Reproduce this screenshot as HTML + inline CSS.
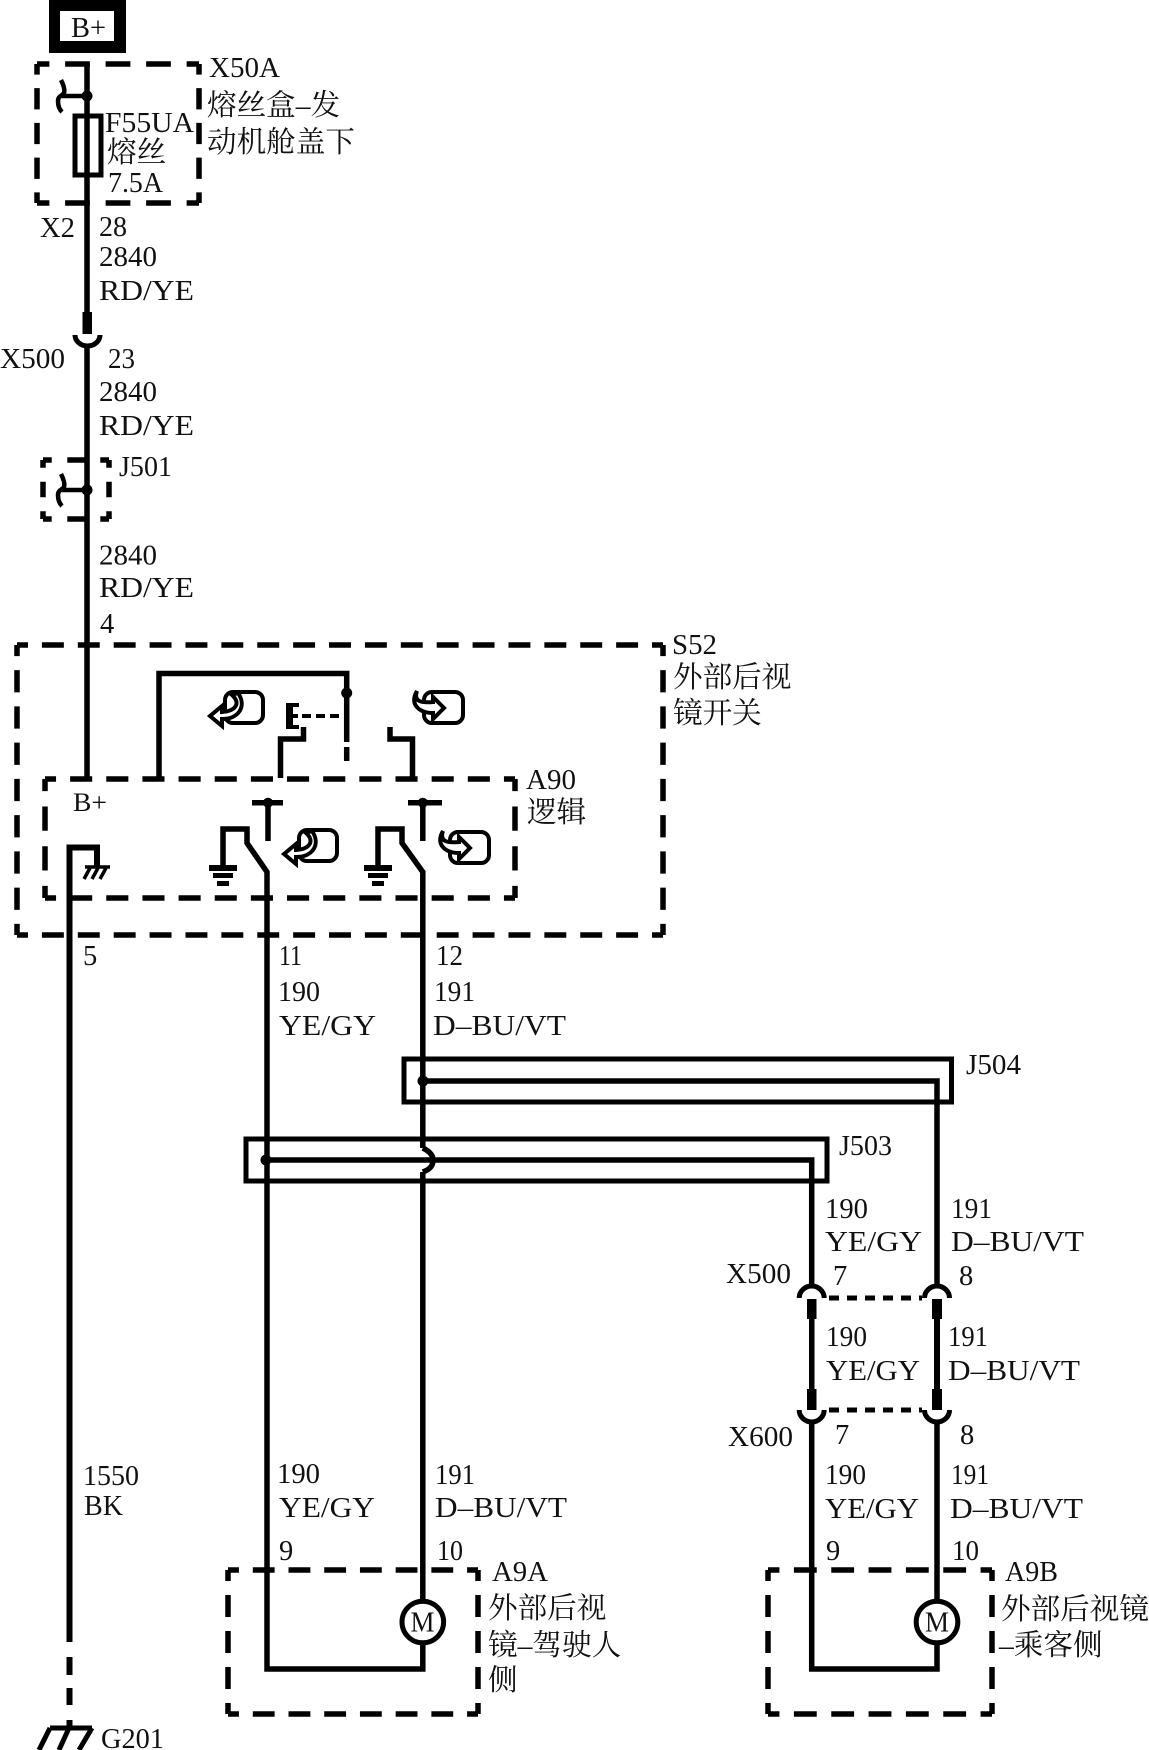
<!DOCTYPE html>
<html lang="zh">
<head>
<meta charset="utf-8">
<title>外部后视镜</title>
<style>
html,body{margin:0;padding:0;background:#fff;width:1149px;height:1750px;overflow:hidden}
svg{display:block}
text{font-family:"Liberation Serif","Noto Serif CJK SC",serif;font-size:28.5px;fill:#111}
.c{font-family:"Liberation Serif","Noto Serif CJK SC",serif;font-size:29.6px}
.w{fill:none;stroke:#000;stroke-width:5.5}
.d line{stroke:#000;stroke-width:5.5;stroke-dasharray:22 14;stroke-dashoffset:11;fill:none}
.d .s line{stroke-dasharray:19 17;stroke-dashoffset:9.5}
.m{fill:#fff;stroke:#000;stroke-width:4}
</style>
</head>
<body>
<svg width="1149" height="1750" viewBox="0 0 1149 1750" xmlns="http://www.w3.org/2000/svg">
<rect width="1149" height="1750" fill="#fff"/>
<defs>
<g id="hook"><path d="M61 80C64 86 65 90 64 93C62 96 58 96 58 101C58 106 59 109 62 112" fill="none" stroke="#000" stroke-width="4.500"/><path d="M62 96H87" fill="none" stroke="#000" stroke-width="4.500"/><circle cx="87" cy="96" r="5.500" fill="#000"/></g>
<g id="ml"><rect x="225" y="692" width="38" height="31" rx="8" class="m"/><path d="M232 695C241 703 236 711 222 712V706L210 716L222 726V719C239 719 247 706 238 693Z" class="m"/></g>
<g id="mr"><rect x="424" y="692" width="39" height="31" rx="8" class="m"/><path d="M417 691C413 702 422 703 433 702V697L444 708L433 719V713C419 713 409 704 417 691Z" class="m"/></g>
<g id="gnd"><rect x="0" y="0" width="28" height="6"/><rect x="4" y="8" width="20" height="5"/><rect x="8" y="16" width="12" height="5"/></g>
</defs>

<!-- B+ -->
<rect x="49" y="0" width="77" height="53" fill="#000"/>
<rect x="60" y="11" width="54" height="30" fill="#fff"/>
<text x="71" y="37" textLength="35" lengthAdjust="spacingAndGlyphs">B+</text>

<!-- dashed boxes -->
<g class="d">
<!-- X50A -->
<line x1="37" y1="64" x2="199" y2="64" pathLength="144"/><line x1="37" y1="203" x2="199" y2="203" pathLength="144"/>
<line x1="37" y1="64" x2="37" y2="203" pathLength="144"/><line x1="199" y1="64" x2="199" y2="203" pathLength="144"/>
<!-- J501 -->
<g class="s">
<line x1="43" y1="460" x2="109" y2="460" pathLength="72"/><line x1="43" y1="519" x2="109" y2="519" pathLength="72"/>
<line x1="43" y1="460" x2="43" y2="519" pathLength="72"/><line x1="109" y1="460" x2="109" y2="519" pathLength="72"/>
</g>
<!-- S52 -->
<line x1="17" y1="645" x2="663" y2="645" pathLength="648"/><line x1="17" y1="935" x2="663" y2="935" pathLength="648"/>
<line x1="17" y1="645" x2="17" y2="935" pathLength="288"/><line x1="663" y1="645" x2="663" y2="935" pathLength="288"/>
<!-- A90 -->
<line x1="45" y1="779" x2="515" y2="779" pathLength="468"/><line x1="45" y1="898" x2="515" y2="898" pathLength="468"/>
<line x1="45" y1="779" x2="45" y2="898" pathLength="108"/><line x1="515" y1="779" x2="515" y2="898" pathLength="108"/>
<!-- A9A -->
<line x1="228" y1="1570" x2="478" y2="1570" pathLength="252"/><line x1="228" y1="1714" x2="478" y2="1714" pathLength="252"/>
<line x1="228" y1="1570" x2="228" y2="1714" pathLength="144"/><line x1="478" y1="1570" x2="478" y2="1714" pathLength="144"/>
<!-- A9B -->
<line x1="768" y1="1570" x2="992" y2="1570" pathLength="216"/><line x1="768" y1="1714" x2="992" y2="1714" pathLength="216"/>
<line x1="768" y1="1570" x2="768" y2="1714" pathLength="144"/><line x1="992" y1="1570" x2="992" y2="1714" pathLength="144"/>
</g>

<!-- main B+ wire -->
<path d="M87 64V312M87 348V778" class="w"/>
<rect x="82.500" y="312" width="9.500" height="22" fill="#000"/>
<path d="M75 335A12.500 11 0 0 0 100 335" fill="none" stroke="#000" stroke-width="5"/>
<rect x="75" y="116" width="26" height="59" fill="none" stroke="#000" stroke-width="5"/>
<use href="#hook"/>
<use href="#hook" y="394"/>

<!-- switch upper part -->
<path d="M159 778V673.500H346.700V742" class="w"/>
<circle cx="346.700" cy="693" r="5.500" fill="#000"/>
<path d="M346.700 747V761" class="w"/>
<path d="M302 716H346" fill="none" stroke="#000" stroke-width="4" stroke-dasharray="9 5"/>
<path d="M289.500 703V729" fill="none" stroke="#000" stroke-width="7"/>
<path d="M288 705H299M288 716H298M288 727H299" fill="none" stroke="#000" stroke-width="4"/>
<path d="M303.500 727V739H280.500V778" class="w"/>
<path d="M390 727V739H412.500V778" class="w"/>
<use href="#ml"/><use href="#mr"/>
<use href="#ml" x="74" y="138"/><use href="#mr" x="26" y="140"/>

<!-- switches in A90 -->
<path d="M252 802.700H283M268 802.700V841M408 802.700H442M422.800 802.700V841" class="w"/>
<circle cx="268" cy="802.700" r="5" fill="#000"/><circle cx="422.800" cy="802.700" r="5" fill="#000"/>
<path d="M223 866V829H247V843L267 872V1669H422.800V1645" class="w"/>
<path d="M378 866V829H402V843L422.800 872V1148M422.800 1172V1600" class="w"/>
<path d="M422.800 1148C431 1152 433 1156 433 1160C433 1165 431 1169 422.800 1172" class="w"/>
<use href="#gnd" x="209" y="865"/><use href="#gnd" x="364" y="865"/>

<!-- wire 5 + chassis -->
<path d="M69.500 1642V847.500H97V867" fill="none" stroke="#000" stroke-width="6"/>
<path d="M85 867H110" fill="none" stroke="#000" stroke-width="3.500"/>
<path d="M90 868L84 879M98 868L92 879M106 868L100 879" fill="none" stroke="#000" stroke-width="3.500"/>
<path d="M69.500 1657V1675M69.500 1688V1705M69.500 1720V1728" fill="none" stroke="#000" stroke-width="6"/>
<path d="M50 1728H92M50 1728L39 1750M69 1728L59 1750M92 1728L79 1750" fill="none" stroke="#000" stroke-width="5"/>

<!-- J504 / J503 -->
<rect x="404" y="1059" width="547.500" height="43" fill="none" stroke="#000" stroke-width="5"/>
<rect x="246" y="1139" width="581" height="42" fill="none" stroke="#000" stroke-width="5"/>
<path d="M423 1081H937V1285" class="w"/>
<circle cx="423" cy="1081" r="5.500" fill="#000"/>
<path d="M266 1160H811.700V1285" class="w"/>
<circle cx="266" cy="1160" r="5.500" fill="#000"/>
<path d="M811.700 1422V1669H937V1645M937 1422V1600" class="w"/>

<!-- X500 / X600 connectors -->
<path d="M799.200 1298A12.500 12 0 0 1 824.200 1298M924.500 1298A12.500 12 0 0 1 949.500 1298" fill="none" stroke="#000" stroke-width="5"/>
<path d="M799.200 1410A12.500 12 0 0 0 824.200 1410M924.500 1410A12.500 12 0 0 0 949.500 1410" fill="none" stroke="#000" stroke-width="5"/>
<path d="M829 1298H922M829 1410H922" fill="none" stroke="#000" stroke-width="5" stroke-dasharray="10 8"/>
<rect x="807" y="1299" width="9.500" height="20" fill="#000"/><rect x="932" y="1299" width="10" height="20" fill="#000"/>
<rect x="809" y="1319" width="5.500" height="70" fill="#000"/><rect x="934" y="1319" width="6" height="70" fill="#000"/>
<rect x="807" y="1389" width="9.500" height="21" fill="#000"/><rect x="932" y="1389" width="10" height="21" fill="#000"/>

<!-- motors -->
<circle cx="422.800" cy="1622" r="20.800" fill="#fff" stroke="#000" stroke-width="5"/>
<circle cx="937" cy="1622" r="20.800" fill="#fff" stroke="#000" stroke-width="5"/>
<text x="410.500" y="1631.500" textLength="24" lengthAdjust="spacingAndGlyphs">M</text>
<text x="925" y="1631.500" textLength="24" lengthAdjust="spacingAndGlyphs">M</text>

<!-- labels top -->
<text x="209" y="77" textLength="71" lengthAdjust="spacingAndGlyphs">X50A</text>
<text class="c" x="207" y="115">熔丝盒–发</text>
<text class="c" x="207" y="152">动机舱盖下</text>
<text x="105" y="132" textLength="89" lengthAdjust="spacingAndGlyphs">F55UA</text>
<text class="c" x="107" y="162">熔丝</text>
<text x="108" y="192" textLength="55" lengthAdjust="spacingAndGlyphs">7.5A</text>
<text x="40" y="237" textLength="35" lengthAdjust="spacingAndGlyphs">X2</text>
<text x="99" y="236" textLength="28" lengthAdjust="spacingAndGlyphs">28</text>
<text x="99" y="266" textLength="58" lengthAdjust="spacingAndGlyphs">2840</text>
<text x="99" y="300" textLength="95" lengthAdjust="spacingAndGlyphs">RD/YE</text>
<text x="0" y="368" textLength="65" lengthAdjust="spacingAndGlyphs">X500</text>
<text x="108" y="368" textLength="27" lengthAdjust="spacingAndGlyphs">23</text>
<text x="99" y="401" textLength="58" lengthAdjust="spacingAndGlyphs">2840</text>
<text x="99" y="435" textLength="95" lengthAdjust="spacingAndGlyphs">RD/YE</text>
<text x="119" y="476" textLength="53" lengthAdjust="spacingAndGlyphs">J501</text>
<text x="99" y="564.500" textLength="58" lengthAdjust="spacingAndGlyphs">2840</text>
<text x="99" y="597" textLength="95" lengthAdjust="spacingAndGlyphs">RD/YE</text>
<text x="100" y="633">4</text>

<!-- S52 -->
<text x="672" y="654" textLength="45" lengthAdjust="spacingAndGlyphs">S52</text>
<text class="c" x="673" y="687">外部后视</text>
<text class="c" x="673" y="723">镜开关</text>
<text x="73" y="811" textLength="34" lengthAdjust="spacingAndGlyphs" style="font-size:26px">B+</text>
<text x="526" y="789" textLength="50" lengthAdjust="spacingAndGlyphs">A90</text>
<text class="c" x="527" y="822">逻辑</text>

<!-- mid wires -->
<text x="83" y="965">5</text>
<text x="279" y="965" textLength="23" lengthAdjust="spacingAndGlyphs">11</text>
<text x="436" y="965" textLength="27" lengthAdjust="spacingAndGlyphs">12</text>
<text x="278" y="1001" textLength="42" lengthAdjust="spacingAndGlyphs">190</text>
<text x="279" y="1035" textLength="97" lengthAdjust="spacingAndGlyphs">YE/GY</text>
<text x="434" y="1001" textLength="41" lengthAdjust="spacingAndGlyphs">191</text>
<text x="433" y="1035" textLength="133" lengthAdjust="spacingAndGlyphs">D–BU/VT</text>
<text x="966" y="1074" textLength="55" lengthAdjust="spacingAndGlyphs">J504</text>
<text x="839" y="1155" textLength="53" lengthAdjust="spacingAndGlyphs">J503</text>

<!-- right wires -->
<text x="825" y="1218" textLength="43" lengthAdjust="spacingAndGlyphs">190</text>
<text x="825" y="1251" textLength="97" lengthAdjust="spacingAndGlyphs">YE/GY</text>
<text x="951" y="1218" textLength="41" lengthAdjust="spacingAndGlyphs">191</text>
<text x="951" y="1251" textLength="133" lengthAdjust="spacingAndGlyphs">D–BU/VT</text>
<text x="726" y="1283" textLength="65" lengthAdjust="spacingAndGlyphs">X500</text>
<text x="833" y="1285">7</text>
<text x="959" y="1285">8</text>
<text x="826" y="1346" textLength="41" lengthAdjust="spacingAndGlyphs">190</text>
<text x="826" y="1380" textLength="94" lengthAdjust="spacingAndGlyphs">YE/GY</text>
<text x="948" y="1346" textLength="40" lengthAdjust="spacingAndGlyphs">191</text>
<text x="948" y="1380" textLength="132" lengthAdjust="spacingAndGlyphs">D–BU/VT</text>
<text x="728" y="1446" textLength="65" lengthAdjust="spacingAndGlyphs">X600</text>
<text x="835" y="1444">7</text>
<text x="960" y="1444">8</text>
<text x="825" y="1484" textLength="41" lengthAdjust="spacingAndGlyphs">190</text>
<text x="825" y="1518" textLength="94" lengthAdjust="spacingAndGlyphs">YE/GY</text>
<text x="951" y="1484" textLength="38" lengthAdjust="spacingAndGlyphs">191</text>
<text x="950" y="1518" textLength="133" lengthAdjust="spacingAndGlyphs">D–BU/VT</text>
<text x="826" y="1560">9</text>
<text x="952" y="1560" textLength="27" lengthAdjust="spacingAndGlyphs">10</text>
<text x="1005" y="1581" textLength="53" lengthAdjust="spacingAndGlyphs">A9B</text>
<text class="c" x="1001" y="1619">外部后视镜</text>
<text class="c" x="999" y="1655">–乘客侧</text>

<!-- left bottom -->
<text x="83" y="1485" textLength="56" lengthAdjust="spacingAndGlyphs">1550</text>
<text x="84" y="1515" textLength="39" lengthAdjust="spacingAndGlyphs">BK</text>
<text x="277" y="1483" textLength="43" lengthAdjust="spacingAndGlyphs">190</text>
<text x="279" y="1517" textLength="96" lengthAdjust="spacingAndGlyphs">YE/GY</text>
<text x="435" y="1484" textLength="40" lengthAdjust="spacingAndGlyphs">191</text>
<text x="435" y="1517" textLength="132" lengthAdjust="spacingAndGlyphs">D–BU/VT</text>
<text x="279" y="1560">9</text>
<text x="437" y="1560" textLength="26" lengthAdjust="spacingAndGlyphs">10</text>
<text x="492" y="1581" textLength="56" lengthAdjust="spacingAndGlyphs">A9A</text>
<text class="c" x="488" y="1618">外部后视</text>
<text class="c" x="488" y="1655">镜–驾驶人</text>
<text class="c" x="488" y="1690">侧</text>
<text x="101" y="1748" textLength="63" lengthAdjust="spacingAndGlyphs">G201</text>
</svg>
</body>
</html>
